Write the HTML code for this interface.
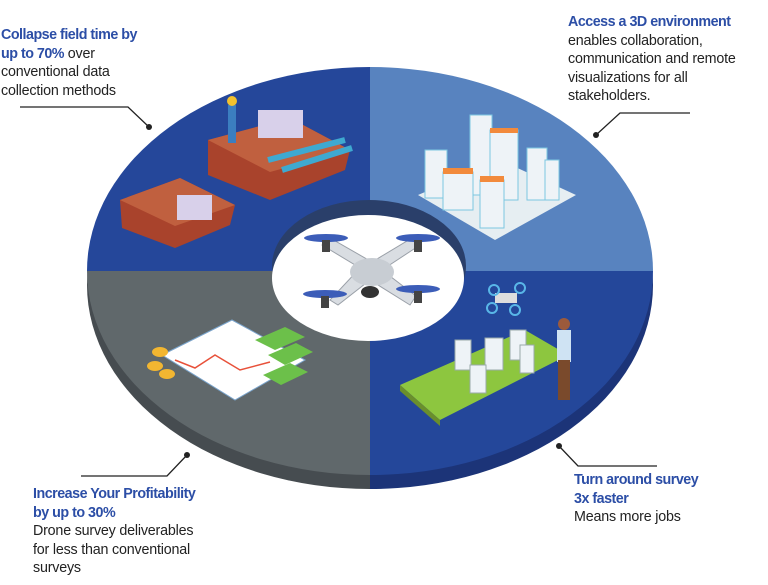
<!DOCTYPE html>
<html><head><meta charset="utf-8"><style>
html,body{margin:0;padding:0;background:#fff;width:768px;height:585px;overflow:hidden}
.t{position:absolute;font-family:"Liberation Sans",sans-serif;font-size:14.3px;line-height:18.6px;color:#222;letter-spacing:-0.2px;white-space:nowrap}
.b{color:#2c4ea6;font-weight:bold;letter-spacing:-0.5px}
</style></head><body>
<svg width="768" height="585" style="position:absolute;left:0;top:0">
<defs><clipPath id="top"><ellipse cx="370" cy="271" rx="283" ry="204"/></clipPath>
<clipPath id="band"><ellipse cx="370" cy="285" rx="283" ry="204"/></clipPath></defs>
<g clip-path="url(#band)">
<rect x="80" y="271" width="290" height="230" fill="#464c50"/>
<rect x="370" y="271" width="290" height="230" fill="#1c3478"/>
</g>
<g clip-path="url(#top)">
<rect x="80" y="60" width="290" height="211" fill="#25479a"/>
<rect x="370" y="60" width="290" height="211" fill="#5883bf"/>
<rect x="370" y="271" width="290" height="210" fill="#24479a"/>
<rect x="80" y="271" width="290" height="210" fill="#60686b"/>
</g>
<ellipse cx="369" cy="266" rx="97" ry="66" fill="#2a3f6a"/>
<ellipse cx="368" cy="278" rx="96" ry="63" fill="#fff"/>
<g>
<path d="M322 245 L360 268 L330 300 L338 305 L370 280 L410 305 L416 296 L382 270 L420 245 L412 238 L372 262 L330 238 Z" fill="#d9dde2" stroke="#9aa0a8"/>
<ellipse cx="372" cy="272" rx="22" ry="14" fill="#c8cdd3"/>
<ellipse cx="370" cy="292" rx="9" ry="6" fill="#333"/>
<g fill="#3c5db8"><ellipse cx="326" cy="238" rx="22" ry="4"/><ellipse cx="418" cy="238" rx="22" ry="4"/><ellipse cx="325" cy="294" rx="22" ry="4"/><ellipse cx="418" cy="289" rx="22" ry="4"/></g>
<g fill="#444"><rect x="322" y="240" width="8" height="12"/><rect x="414" y="240" width="8" height="12"/><rect x="321" y="296" width="8" height="12"/><rect x="414" y="291" width="8" height="12"/></g>
</g>
<path d="M208 140 L290 118 L350 150 L345 170 L270 200 L208 175 Z" fill="#a9432c"/>
<path d="M208 140 L290 118 L350 150 L270 172 Z" fill="#c0603f"/>
<path d="M120 200 L180 178 L235 205 L230 225 L175 248 L122 228 Z" fill="#a9432c"/>
<path d="M120 200 L180 178 L235 205 L175 226 Z" fill="#c0603f"/>
<rect x="258" y="110" width="45" height="28" fill="#d8d0ea"/>
<rect x="177" y="195" width="35" height="25" fill="#d8d0ea"/>
<path d="M268 160 L345 140" stroke="#3fa9d0" stroke-width="6"/><path d="M282 170 L352 148" stroke="#3fa9d0" stroke-width="6"/>
<rect x="228" y="105" width="8" height="38" fill="#3b7ec0"/><circle cx="232" cy="101" r="5" fill="#f2c12e"/>
<path d="M418 195 L500 160 L576 195 L495 240 Z" fill="#e6eef2"/>
<g fill="#eef3f7" stroke="#7cc7e0"><rect x="425" y="150" width="22" height="48"/><rect x="470" y="115" width="22" height="80"/><rect x="490" y="130" width="28" height="70"/><rect x="443" y="172" width="30" height="38"/><rect x="527" y="148" width="20" height="52"/><rect x="545" y="160" width="14" height="40"/><rect x="480" y="180" width="24" height="48"/></g>
<g fill="#f28a3c"><rect x="443" y="168" width="30" height="6"/><rect x="480" y="176" width="24" height="6"/><rect x="490" y="128" width="28" height="5"/></g>
<path d="M400 385 L525 330 L568 355 L440 420 Z" fill="#8dc63f"/>
<path d="M400 385 L440 420 L440 426 L400 391 Z" fill="#6a8f2c"/>
<g fill="#eef3f7" stroke="#9aa"><rect x="455" y="340" width="16" height="30"/><rect x="485" y="338" width="18" height="32"/><rect x="510" y="330" width="16" height="30"/><rect x="470" y="365" width="16" height="28"/><rect x="520" y="345" width="14" height="28"/></g>
<rect x="557" y="330" width="14" height="32" fill="#cfe3f3"/><rect x="558" y="360" width="12" height="40" fill="#7a4a2c"/><circle cx="564" cy="324" r="6" fill="#9c5a3c"/>
<rect x="495" y="293" width="22" height="10" fill="#ddd"/>
<g fill="none" stroke="#59b7e8" stroke-width="2"><circle cx="494" cy="290" r="5"/><circle cx="520" cy="288" r="5"/><circle cx="492" cy="308" r="5"/><circle cx="515" cy="310" r="5"/></g>
<path d="M162 355 L232 320 L305 360 L235 400 Z" fill="#fff" stroke="#7aa4cc"/>
<path d="M175 360 L195 368 L215 355 L240 370 L270 362" stroke="#e8513a" fill="none" stroke-width="1.5"/>
<g fill="#f2b631"><ellipse cx="160" cy="352" rx="8" ry="5"/><ellipse cx="155" cy="366" rx="8" ry="5"/><ellipse cx="167" cy="374" rx="8" ry="5"/></g>
<g fill="#6cc04a"><path d="M255 340 L285 327 L305 337 L275 350 Z"/><path d="M268 355 L296 343 L313 352 L285 365 Z"/><path d="M263 375 L290 363 L308 372 L281 385 Z"/></g>
<g stroke="#222" stroke-width="1.3" fill="none">
<polyline points="20,107 128,107 149,127"/>
<polyline points="596,135 620,113 690,113"/>
<polyline points="187,455 167,476 81,476"/>
<polyline points="559,446 578,466 657,466"/>
</g>
<g fill="#222"><circle cx="149" cy="127" r="3"/><circle cx="596" cy="135" r="3"/><circle cx="187" cy="455" r="3"/><circle cx="559" cy="446" r="3"/></g>
</svg>
<div class="t" style="left:1px;top:26px"><span class="b">Collapse field time by</span><br><span class="b">up to 70%</span> over<br>conventional data<br>collection methods</div>
<div class="t" style="left:568px;top:13px"><span class="b">Access a 3D environment</span><br>enables collaboration,<br>communication and remote<br>visualizations for all<br>stakeholders.</div>
<div class="t" style="left:33px;top:485px"><span class="b">Increase Your Profitability</span><br><span class="b">by up to 30%</span><br>Drone survey deliverables<br>for less than conventional<br>surveys</div>
<div class="t" style="left:574px;top:471px"><span class="b">Turn around survey</span><br><span class="b">3x faster</span><br>Means more jobs</div>
</body></html>
